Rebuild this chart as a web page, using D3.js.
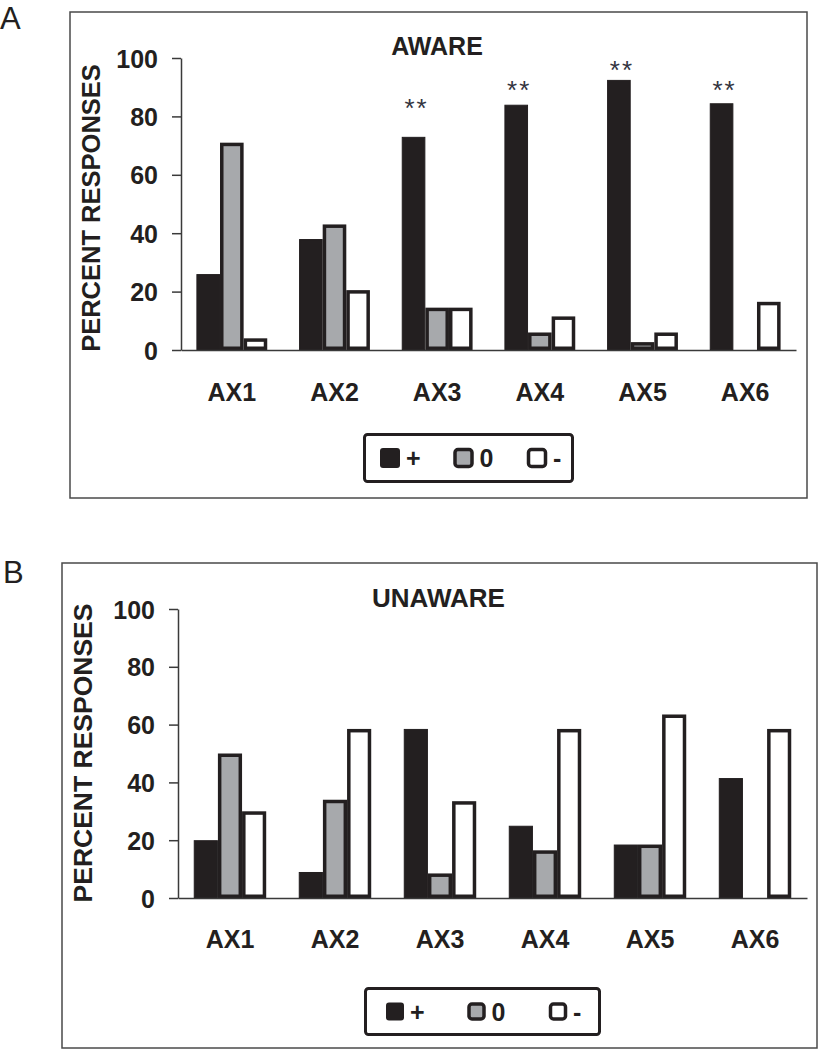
<!DOCTYPE html>
<html>
<head>
<meta charset="utf-8">
<script src="https://cdn.jsdelivr.net/npm/d3@7"></script>
<style>
  html, body { margin: 0; padding: 0; background: #ffffff; }
  svg { display: block; }
  text { font-family: "Liberation Sans", Arial, sans-serif; }
</style>
</head>
<body>
<div id="chart"></div>
<script>
// ---------------- data ----------------
const categories = ["AX1", "AX2", "AX3", "AX4", "AX5", "AX6"];
const seriesNames = ["+", "0", "-"];
const yTicks = [0, 20, 40, 60, 80, 100];

const awarePlus  = [26, 38, 73, 84, 92.5, 84.5];
const awareZero  = [71, 43, 14.5, 6, 2.7, 0];
const awareMinus = [4, 20.5, 14.5, 11.5, 6, 16.5];
// height (in percent units) of the "**" significance marks, null = none
const awareSig   = [null, null, 84, 90.2, 97, 90.2];

const unawarePlus  = [20, 9, 58.5, 25, 18.5, 41.5];
const unawareZero  = [50, 34, 8.5, 16.5, 18.5, 0];
const unawareMinus = [30, 58.5, 33.5, 58.5, 63.5, 58.5];
const unawareSig   = [null, null, null, null, null, null];

const sigLabel = "**";
const yTitle = "PERCENT RESPONSES";

// ---------------- styles ----------------
const DARK = "#231f20";
const GRAY = "#a7a9ac";
const seriesFill = { "+": DARK, "0": GRAY, "-": "#ffffff" };
const seriesStroke = { "+": 1, "0": 3.5, "-": 3.5 };

const W = 818, H = 1050;
const svg = d3.select("#chart").append("svg")
  .attr("width", W).attr("height", H)
  .attr("viewBox", `0 0 ${W} ${H}`);

function drawPanel(p) {
  const g = svg.append("g");
  const rows = categories.map((c, i) => ({
    cat: c,
    values: { "+": p.plus[i], "0": p.zero[i], "-": p.minus[i] },
    sig: p.sig[i]
  }));

  // frame
  g.append("rect")
    .attr("x", p.frame.x).attr("y", p.frame.y)
    .attr("width", p.frame.w).attr("height", p.frame.h)
    .attr("fill", "none").attr("stroke", "#4a4a4a").attr("stroke-width", 1.5);

  // panel letter
  g.append("text")
    .attr("x", p.letter.x).attr("y", p.letter.y)
    .attr("font-size", 31).attr("fill", DARK)
    .text(p.letter.t);

  const x = d3.scaleBand().domain(categories)
    .range([p.axisX0, p.axisX1]).paddingInner(0.31).paddingOuter(0.15);
  const xs = d3.scaleBand().domain(seriesNames).range([0, x.bandwidth()]);
  const y = d3.scaleLinear().domain([0, 100]).range([p.y0, p.y100]);

  // title
  g.append("text")
    .attr("x", p.title.x).attr("y", p.title.y)
    .attr("text-anchor", "middle").attr("font-weight", "bold")
    .attr("font-size", p.title.fs).attr("fill", DARK)
    .text(p.title.t);

  // bars
  const grp = g.selectAll("g.grp").data(rows).join("g")
    .attr("class", "grp")
    .attr("transform", d => `translate(${x(d.cat)},0)`);
  grp.selectAll("rect")
    .data(d => seriesNames.map(s => ({ s, v: d.values[s] })).filter(e => e.v > 0))
    .join("rect")
    .attr("x", e => xs(e.s) + seriesStroke[e.s] / 2)
    .attr("width", e => xs.bandwidth() - seriesStroke[e.s])
    .attr("y", e => y(e.v) + seriesStroke[e.s] / 2)
    .attr("height", e => Math.max(0, y(0) - y(e.v) - seriesStroke[e.s]))
    .attr("fill", e => seriesFill[e.s])
    .attr("stroke", DARK)
    .attr("stroke-width", e => seriesStroke[e.s]);

  // significance marks
  g.selectAll("text.sig").data(rows.filter(d => d.sig != null)).join("text")
    .attr("class", "sig")
    .attr("x", d => x(d.cat) + xs("+") + xs.bandwidth() / 2 + 3)
    .attr("y", d => y(d.sig) + 12)
    .attr("text-anchor", "middle")
    .attr("font-family", "'Liberation Serif', 'Times New Roman', serif")
    .attr("font-size", 26).attr("letter-spacing", 2).attr("fill", "#33343f")
    .text(sigLabel);

  // y axis
  const yAxis = g.append("g")
    .attr("transform", `translate(${p.axisX0},0)`)
    .call(d3.axisLeft(y).tickValues(yTicks).tickSizeInner(9).tickSizeOuter(0).tickPadding(14));
  yAxis.select(".domain").attr("stroke", "#3a3a3a").attr("stroke-width", 1.5);
  yAxis.selectAll(".tick line").attr("stroke", "#3a3a3a").attr("stroke-width", 1.5);
  yAxis.selectAll(".tick text")
    .attr("font-family", "'Liberation Sans', Arial, sans-serif")
    .attr("font-size", 25).attr("font-weight", "bold").attr("fill", DARK)
    .attr("dy", "0.36em");

  // x axis
  const xAxis = g.append("g")
    .attr("transform", `translate(0,${p.y0})`)
    .call(d3.axisBottom(x).tickSize(0).tickSizeOuter(0));
  xAxis.select(".domain").attr("stroke", "#3a3a3a").attr("stroke-width", 1.5);
  xAxis.selectAll(".tick text")
    .attr("font-family", "'Liberation Sans', Arial, sans-serif")
    .attr("font-size", 25).attr("font-weight", "bold").attr("fill", DARK)
    .attr("y", p.xLabelOffset).attr("dy", 0);

  // y title
  g.append("text")
    .attr("transform", `translate(${p.yTitle.x},${p.yTitle.y}) rotate(-90)`)
    .attr("text-anchor", "middle").attr("font-weight", "bold")
    .attr("font-size", p.yTitle.fs).attr("fill", DARK)
    .text(yTitle);

  // legend
  const L = p.legend;
  g.append("rect")
    .attr("x", L.x + 1.5).attr("y", L.y + 1.5)
    .attr("width", L.w - 3).attr("height", L.h - 3)
    .attr("rx", 3)
    .attr("fill", "#ffffff").attr("stroke", DARK).attr("stroke-width", 3);
  const items = g.selectAll("g.leg").data(seriesNames).join("g")
    .attr("class", "leg")
    .attr("transform", (s, i) => `translate(${L.itemX0 + i * L.step},${L.y + L.h / 2})`);
  items.append("rect")
    .attr("x", s => s === "+" ? 0 : 1.5)
    .attr("y", s => -L.sq / 2 + (s === "+" ? 0 : 1.5))
    .attr("width", s => L.sq - (s === "+" ? 0 : 3))
    .attr("height", s => L.sq - (s === "+" ? 0 : 3))
    .attr("rx", 3)
    .attr("fill", s => seriesFill[s])
    .attr("stroke", DARK)
    .attr("stroke-width", s => s === "+" ? 0 : 3.5);
  items.append("text")
    .attr("x", L.sq + 6).attr("y", 0).attr("dy", "0.36em")
    .attr("font-size", 25).attr("font-weight", "bold").attr("fill", DARK)
    .text(s => s);
}

drawPanel({
  frame: { x: 70, y: 12, w: 737, h: 486 },
  letter: { t: "A", x: 0, y: 29 },
  title: { t: "AWARE", x: 437, y: 55, fs: 25 },
  axisX0: 181, axisX1: 796, y0: 350, y100: 58,
  xLabelOffset: 51,
  yTitle: { x: 100, y: 208, fs: 25.5 },
  legend: { x: 363, y: 433, w: 211, h: 50, sq: 20, itemX0: 380, step: 73.5 },
  plus: awarePlus, zero: awareZero, minus: awareMinus, sig: awareSig
});

drawPanel({
  frame: { x: 62, y: 563, w: 755, h: 485 },
  letter: { t: "B", x: 3, y: 583 },
  title: { t: "UNAWARE", x: 438.5, y: 607, fs: 26 },
  axisX0: 178, axisX1: 807, y0: 898, y100: 609,
  xLabelOffset: 50,
  yTitle: { x: 92, y: 753, fs: 26.5 },
  legend: { x: 364, y: 987, w: 237, h: 49, sq: 18, itemX0: 386, step: 81.5 },
  plus: unawarePlus, zero: unawareZero, minus: unawareMinus, sig: unawareSig
});
</script>
</body>
</html>
